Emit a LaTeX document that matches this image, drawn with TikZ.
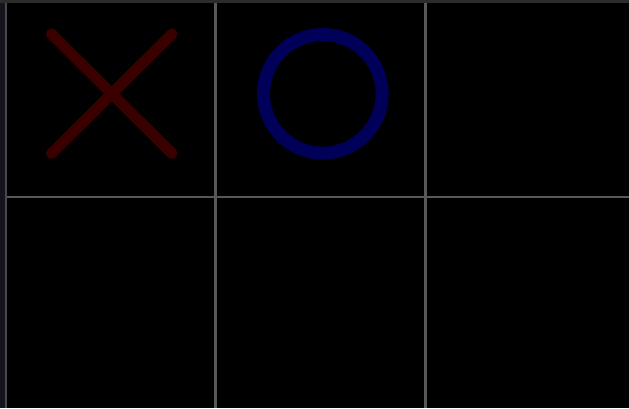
\documentclass[tikz,border=0pt]{standalone}
\begin{document}
\begin{tikzpicture}[x=1pt,y=-1pt,
  gridline/.style={draw=gridgray,line width=2.6pt},
  xmark/.style={draw=xred,line width=11pt,line cap=round},
  omark/.style={draw=oblue,line width=13pt}]
\definecolor{gridgray}{RGB}{88,88,88}
\definecolor{xred}{RGB}{58,0,0}
\definecolor{oblue}{RGB}{0,0,88}
\definecolor{topstrip}{RGB}{44,44,44}
\definecolor{leftstrip}{RGB}{20,20,28}
\definecolor{leftline}{RGB}{72,72,76}
\useasboundingbox (0,0) rectangle (629,408);
\fill[black] (0,0) rectangle (629,408);
\fill[leftstrip] (0,0) rectangle (4.5,408);
\fill[leftline] (4.5,0) rectangle (7,408);
\fill[topstrip] (0,0) rectangle (629,3.3);
% grid
\draw[gridline] (215.5,3.3) -- (215.5,408);
\draw[gridline] (425.5,3.3) -- (425.5,408);
\draw[gridline] (7,197) -- (629,197);
% X
\draw[xmark] (51.5,34) -- (172,153.5);
\draw[xmark] (172,34) -- (51.5,153.5);
% O
\draw[omark] (322.8,93.8) circle (59.3);
\end{tikzpicture}
\end{document}
